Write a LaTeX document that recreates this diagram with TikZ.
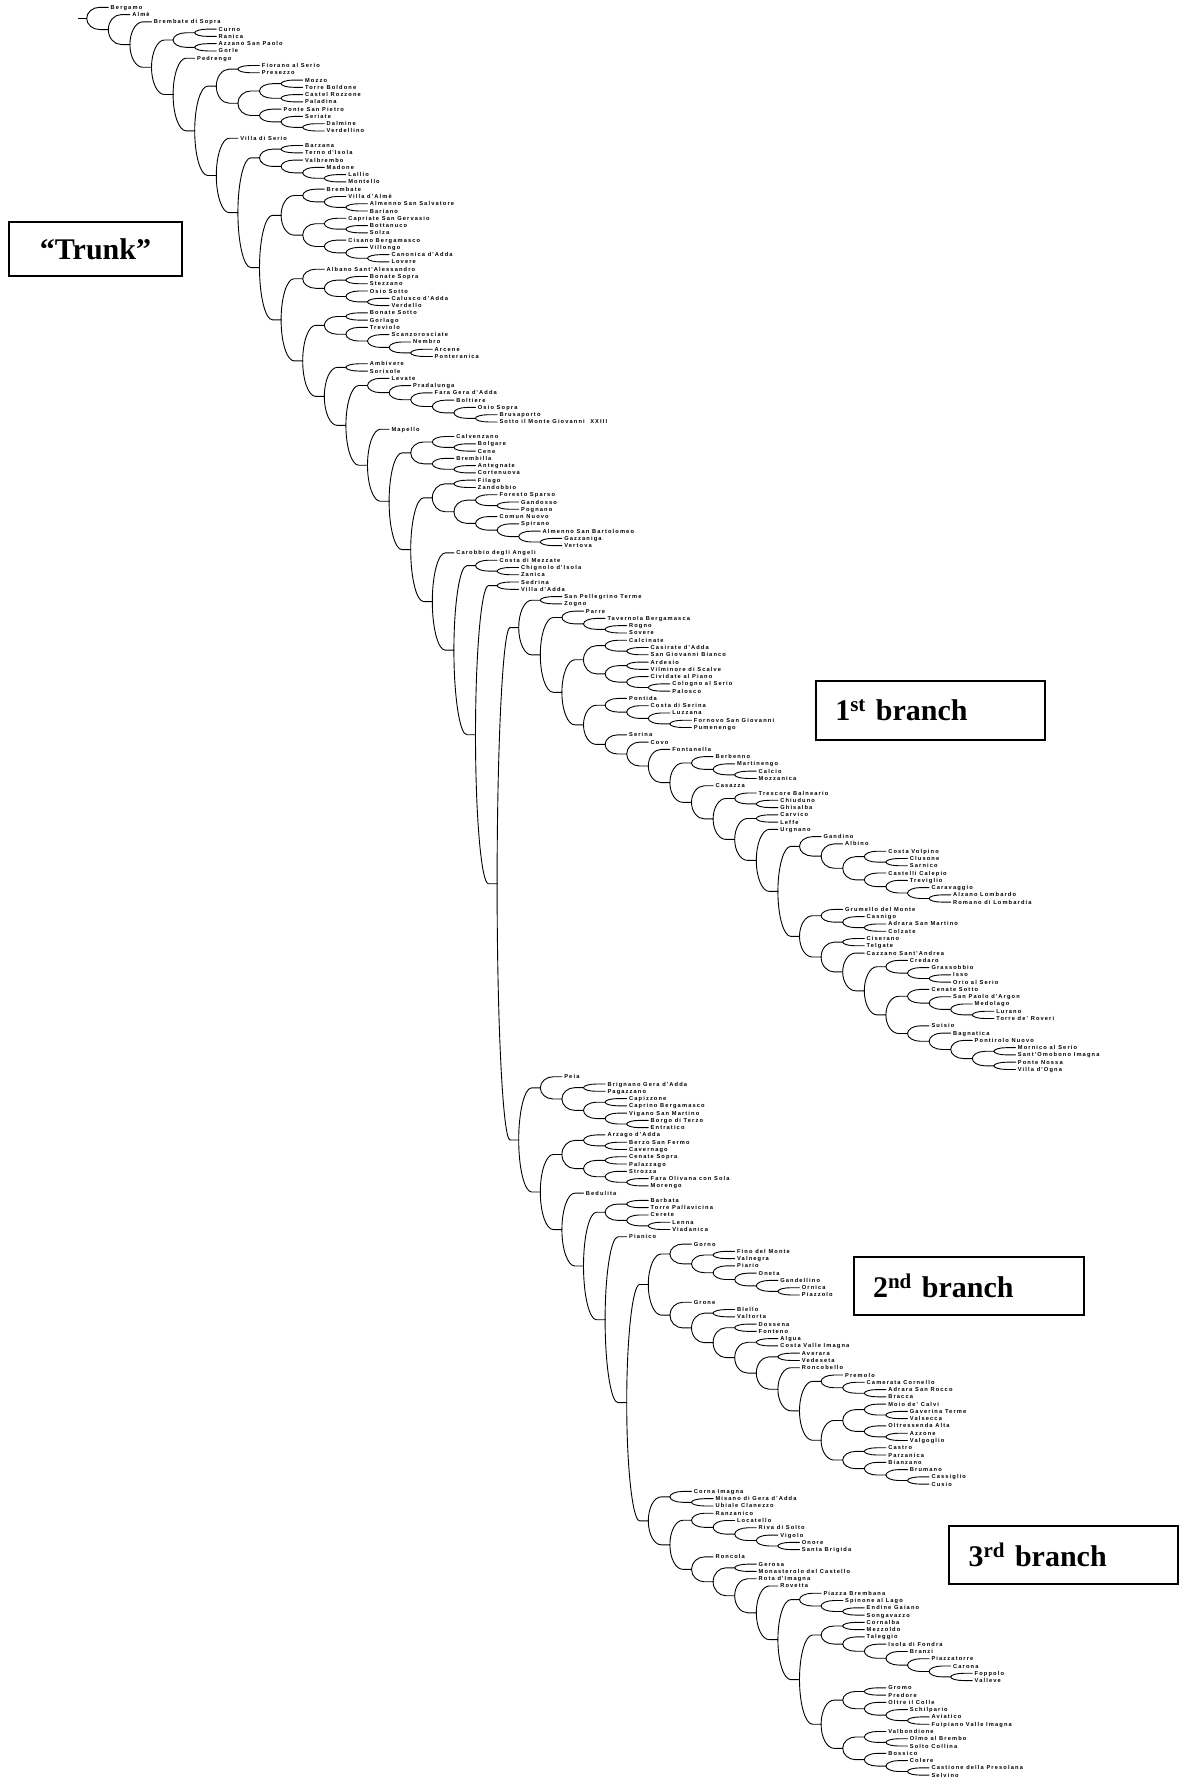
\documentclass[tikz,border=0pt]{standalone}
\usepackage{fontspec}
\setmainfont{Liberation Serif}
\newfontfamily\labfont{Liberation Sans}[LetterSpace=20]
\usetikzlibrary{calc}
\newcount\stkn
\newcount\nodecount
\newcount\leafcount
\newcount\tmpc
\def\XO{86.7}\def\DX{21.6}\def\YO{7.3}\def\DY{7.275}
\def\pushstk#1#2#3{%
  \global\advance\stkn by 1
  \expandafter\xdef\csname stkname\the\stkn\endcsname{#1}%
  \expandafter\xdef\csname stkdep\the\stkn\endcsname{#2}%
  \expandafter\xdef\csname stky\the\stkn\endcsname{#3}}
\def\lnk#1#2{\draw[lnk] (#1) .. controls ($(#1)!0.55!(#1|-#2)$) and ($(#1|-#2)!0.27!(#2)$) .. ($(#1|-#2)!0.6!(#2)$) -- (#2);}
\def\reducestk{%
  \let\rdnext\relax
  \ifnum\stkn>1
    \tmpc=\stkn \advance\tmpc by -1
    \edef\topd{\csname stkdep\the\stkn\endcsname}%
    \edef\nextd{\csname stkdep\the\tmpc\endcsname}%
    \ifnum\topd=\nextd\relax\let\rdnext\mergestk\fi
  \fi
  \rdnext}
\def\mergestk{%
  \edef\stkBname{\csname stkname\the\stkn\endcsname}%
  \edef\stkBy{\csname stky\the\stkn\endcsname}%
  \edef\stkBd{\csname stkdep\the\stkn\endcsname}%
  \global\advance\stkn by -1
  \edef\stkAname{\csname stkname\the\stkn\endcsname}%
  \edef\stkAy{\csname stky\the\stkn\endcsname}%
  \global\advance\stkn by -1
  \global\advance\nodecount by 1
  \pgfmathtruncatemacro\pdep{\stkBd-1}%
  \pgfmathsetmacro\nPX{\XO+\pdep*\DX}%
  \pgfmathsetmacro\nPY{(\stkAy+\stkBy)/2}%
  \edef\pname{N\the\nodecount}%
  \coordinate (\pname) at (\nPX,\nPY);
  \edef\tmplinks{\noexpand\lnk{\pname}{\stkAname}\noexpand\lnk{\pname}{\stkBname}}\tmplinks
  \pushstk{\pname}{\pdep}{\nPY}%
  \reducestk}
\newcommand\Lf[2]{%
  \global\advance\leafcount by 1
  \edef\lfname{L\the\leafcount}%
  \pgfmathsetmacro\lfx{\XO+#1*\DX}%
  \pgfmathsetmacro\lfy{\YO+(\the\leafcount-1)*\DY}%
  \coordinate (\lfname) at (\lfx,\lfy);
  \node[lab] (T\the\leafcount) at (\lfname) {#2};
  \pushstk{\lfname}{#1}{\lfy}%
  \reducestk}
\begin{document}
\begin{tikzpicture}[x=1pt,y=-1pt,
  lnk/.style={line width=0.9pt,line cap=round},
  lab/.style={anchor=west,inner xsep=2.2pt,inner ysep=0pt,text height=4pt,text depth=0pt,
    font=\labfont\bfseries\fontsize{5.7}{6.5}\selectfont},
  box/.style={draw,line width=2pt,font=\bfseries\fontsize{30}{33}\selectfont}]
\fill[white] (0,0) rectangle (1180,1783);
\useasboundingbox (0,0) rectangle (1180,1783);
\Lf{1}{Bergamo}
\Lf{2}{Almè}
\Lf{3}{Brembate di Sopra}
\Lf{6}{Curno}
\Lf{6}{Ranica}
\Lf{6}{Azzano San Paolo}
\Lf{6}{Gorle}
\Lf{5}{Pedrengo}
\Lf{8}{Fiorano al Serio}
\Lf{8}{Presezzo}
\Lf{10}{Mozzo}
\Lf{10}{Torre Boldone}
\Lf{10}{Castel Rozzone}
\Lf{10}{Paladina}
\Lf{9}{Ponte San Pietro}
\Lf{10}{Seriate}
\Lf{11}{Dalmine}
\Lf{11}{Verdellino}
\Lf{7}{Villa di Serio}
\Lf{10}{Barzana}
\Lf{10}{Terno d'Isola}
\Lf{10}{Valbrembo}
\Lf{11}{Madone}
\Lf{12}{Lallio}
\Lf{12}{Montello}
\Lf{11}{Brembate}
\Lf{12}{Villa d'Almè}
\Lf{13}{Almenno San Salvatore}
\Lf{13}{Bariano}
\Lf{12}{Capriate San Gervasio}
\Lf{13}{Bottanuco}
\Lf{13}{Solza}
\Lf{12}{Cisano Bergamasco}
\Lf{13}{Villongo}
\Lf{14}{Canonica d'Adda}
\Lf{14}{Lovere}
\Lf{11}{Albano Sant'Alessandro}
\Lf{13}{Bonate Sopra}
\Lf{13}{Stezzano}
\Lf{13}{Osio Sotto}
\Lf{14}{Calusco d'Adda}
\Lf{14}{Verdello}
\Lf{13}{Bonate Sotto}
\Lf{13}{Gorlago}
\Lf{13}{Treviolo}
\Lf{14}{Scanzorosciate}
\Lf{15}{Nembro}
\Lf{16}{Arcene}
\Lf{16}{Ponteranica}
\Lf{13}{Ambivere}
\Lf{13}{Sorisole}
\Lf{14}{Levate}
\Lf{15}{Pradalunga}
\Lf{16}{Fara Gera d'Adda}
\Lf{17}{Boltiere}
\Lf{18}{Osio Sopra}
\Lf{19}{Brusaporto}
\Lf{19}{Sotto il Monte Giovanni\ \ XXIII}
\Lf{14}{Mapello}
\Lf{17}{Calvenzano}
\Lf{18}{Bolgare}
\Lf{18}{Cene}
\Lf{17}{Brembilla}
\Lf{18}{Antegnate}
\Lf{18}{Cortenuova}
\Lf{18}{Filago}
\Lf{18}{Zandobbio}
\Lf{19}{Foresto Sparso}
\Lf{20}{Gandosso}
\Lf{20}{Pognano}
\Lf{19}{Comun Nuovo}
\Lf{20}{Spirano}
\Lf{21}{Almenno San Bartolomeo}
\Lf{22}{Gazzaniga}
\Lf{22}{Vertova}
\Lf{17}{Carobbio degli Angeli}
\Lf{19}{Costa di Mezzate}
\Lf{20}{Chignolo d'Isola}
\Lf{20}{Zanica}
\Lf{20}{Sedrina}
\Lf{20}{Villa d'Adda}
\Lf{22}{San Pellegrino Terme}
\Lf{22}{Zogno}
\Lf{23}{Parre}
\Lf{24}{Tavernola Bergamasca}
\Lf{25}{Rogno}
\Lf{25}{Sovere}
\Lf{25}{Calcinate}
\Lf{26}{Casirate d'Adda}
\Lf{26}{San Giovanni Bianco}
\Lf{26}{Ardesio}
\Lf{26}{Vilminore di Scalve}
\Lf{26}{Cividate al Piano}
\Lf{27}{Cologno al Serio}
\Lf{27}{Palosco}
\Lf{25}{Pontida}
\Lf{26}{Costa di Serina}
\Lf{27}{Luzzana}
\Lf{28}{Fornovo San Giovanni}
\Lf{28}{Pumenengo}
\Lf{25}{Serina}
\Lf{26}{Covo}
\Lf{27}{Fontanella}
\Lf{29}{Berbenno}
\Lf{30}{Martinengo}
\Lf{31}{Calcio}
\Lf{31}{Mozzanica}
\Lf{29}{Casazza}
\Lf{31}{Trescore Balneario}
\Lf{32}{Chiuduno}
\Lf{32}{Ghisalba}
\Lf{32}{Carvico}
\Lf{32}{Leffe}
\Lf{32}{Urgnano}
\Lf{34}{Gandino}
\Lf{35}{Albino}
\Lf{37}{Costa Volpino}
\Lf{38}{Clusone}
\Lf{38}{Sarnico}
\Lf{37}{Castelli Calepio}
\Lf{38}{Treviglio}
\Lf{39}{Caravaggio}
\Lf{40}{Alzano Lombardo}
\Lf{40}{Romano di Lombardia}
\Lf{35}{Grumello del Monte}
\Lf{36}{Casnigo}
\Lf{37}{Adrara San Martino}
\Lf{37}{Colzate}
\Lf{36}{Ciserano}
\Lf{36}{Telgate}
\Lf{36}{Cazzano Sant'Andrea}
\Lf{38}{Credaro}
\Lf{39}{Grassobbio}
\Lf{40}{Isso}
\Lf{40}{Orio al Serio}
\Lf{39}{Cenate Sotto}
\Lf{40}{San Paolo d'Argon}
\Lf{41}{Medolago}
\Lf{42}{Lurano}
\Lf{42}{Torre de' Roveri}
\Lf{39}{Suisio}
\Lf{40}{Bagnatica}
\Lf{41}{Pontirolo Nuovo}
\Lf{43}{Mornico al Serio}
\Lf{43}{Sant'Omobono Imagna}
\Lf{43}{Ponte Nossa}
\Lf{43}{Villa d'Ogna}
\Lf{22}{Peia}
\Lf{24}{Brignano Gera d'Adda}
\Lf{24}{Pagazzano}
\Lf{25}{Capizzone}
\Lf{25}{Caprino Bergamasco}
\Lf{25}{Vigano San Martino}
\Lf{26}{Borgo di Terzo}
\Lf{26}{Entratico}
\Lf{24}{Arzago d'Adda}
\Lf{25}{Berzo San Fermo}
\Lf{25}{Cavernago}
\Lf{25}{Cenate Sopra}
\Lf{25}{Palazzago}
\Lf{25}{Strozza}
\Lf{26}{Fara Olivana con Sola}
\Lf{26}{Morengo}
\Lf{23}{Bedulita}
\Lf{26}{Barbata}
\Lf{26}{Torre Pallavicina}
\Lf{26}{Cerete}
\Lf{27}{Lenna}
\Lf{27}{Viadanica}
\Lf{25}{Pianico}
\Lf{28}{Gorno}
\Lf{30}{Fino del Monte}
\Lf{30}{Valnegra}
\Lf{30}{Piario}
\Lf{31}{Oneta}
\Lf{32}{Gandellino}
\Lf{33}{Ornica}
\Lf{33}{Piazzolo}
\Lf{28}{Grone}
\Lf{30}{Blello}
\Lf{30}{Valtorta}
\Lf{31}{Dossena}
\Lf{31}{Fonteno}
\Lf{32}{Algua}
\Lf{32}{Costa Valle Imagna}
\Lf{33}{Averara}
\Lf{33}{Vedeseta}
\Lf{33}{Roncobello}
\Lf{35}{Premolo}
\Lf{36}{Camerata Cornello}
\Lf{37}{Adrara San Rocco}
\Lf{37}{Bracca}
\Lf{37}{Moio de' Calvi}
\Lf{38}{Gaverina Terme}
\Lf{38}{Valsecca}
\Lf{37}{Oltressenda Alta}
\Lf{38}{Azzone}
\Lf{38}{Valgoglio}
\Lf{37}{Castro}
\Lf{37}{Parzanica}
\Lf{37}{Bianzano}
\Lf{38}{Brumano}
\Lf{39}{Cassiglio}
\Lf{39}{Cusio}
\Lf{28}{Corna Imagna}
\Lf{29}{Misano di Gera d'Adda}
\Lf{29}{Ubiale Clanezzo}
\Lf{29}{Ranzanico}
\Lf{30}{Locatello}
\Lf{31}{Riva di Solto}
\Lf{32}{Vigolo}
\Lf{33}{Onore}
\Lf{33}{Santa Brigida}
\Lf{29}{Roncola}
\Lf{31}{Gerosa}
\Lf{31}{Monasterolo del Castello}
\Lf{31}{Rota d'Imagna}
\Lf{32}{Rovetta}
\Lf{34}{Piazza Brembana}
\Lf{35}{Spinone al Lago}
\Lf{36}{Endine Gaiano}
\Lf{36}{Songavazzo}
\Lf{36}{Cornalba}
\Lf{36}{Mezzoldo}
\Lf{36}{Taleggio}
\Lf{37}{Isola di Fondra}
\Lf{38}{Branzi}
\Lf{39}{Piazzatorre}
\Lf{40}{Carona}
\Lf{41}{Foppolo}
\Lf{41}{Valleve}
\Lf{37}{Gromo}
\Lf{37}{Predore}
\Lf{37}{Oltre il Colle}
\Lf{38}{Schilpario}
\Lf{39}{Aviatico}
\Lf{39}{Fuipiano Valle Imagna}
\Lf{37}{Valbondione}
\Lf{38}{Olmo al Brembo}
\Lf{38}{Solto Collina}
\Lf{37}{Bossico}
\Lf{38}{Colere}
\Lf{39}{Castione della Presolana}
\Lf{39}{Selvino}
\edef\rootname{\csname stkname1\endcsname}
\coordinate (stub) at ($(\rootname)+(-8.4,0)$);
\draw[lnk] (stub) -- (\rootname);
\node[box,minimum width=173pt,minimum height=54pt] (trunk) at (95.5,249) {“Trunk”};
\node[box,anchor=west,minimum width=228.6pt,minimum height=59pt,text width=190pt,align=left,inner xsep=19pt] (b1) at (815,710.5) {1\textsuperscript{st} branch};
\node[box,anchor=west,minimum width=230.8pt,minimum height=58pt,text width=192pt,align=left,inner xsep=19pt] (b2) at (852.6,1286.3) {2\textsuperscript{nd} branch};
\node[box,anchor=west,minimum width=229pt,minimum height=58pt,text width=190pt,align=left,inner xsep=19pt] (b3) at (948,1554.6) {3\textsuperscript{rd} branch};
\end{tikzpicture}
\end{document}
